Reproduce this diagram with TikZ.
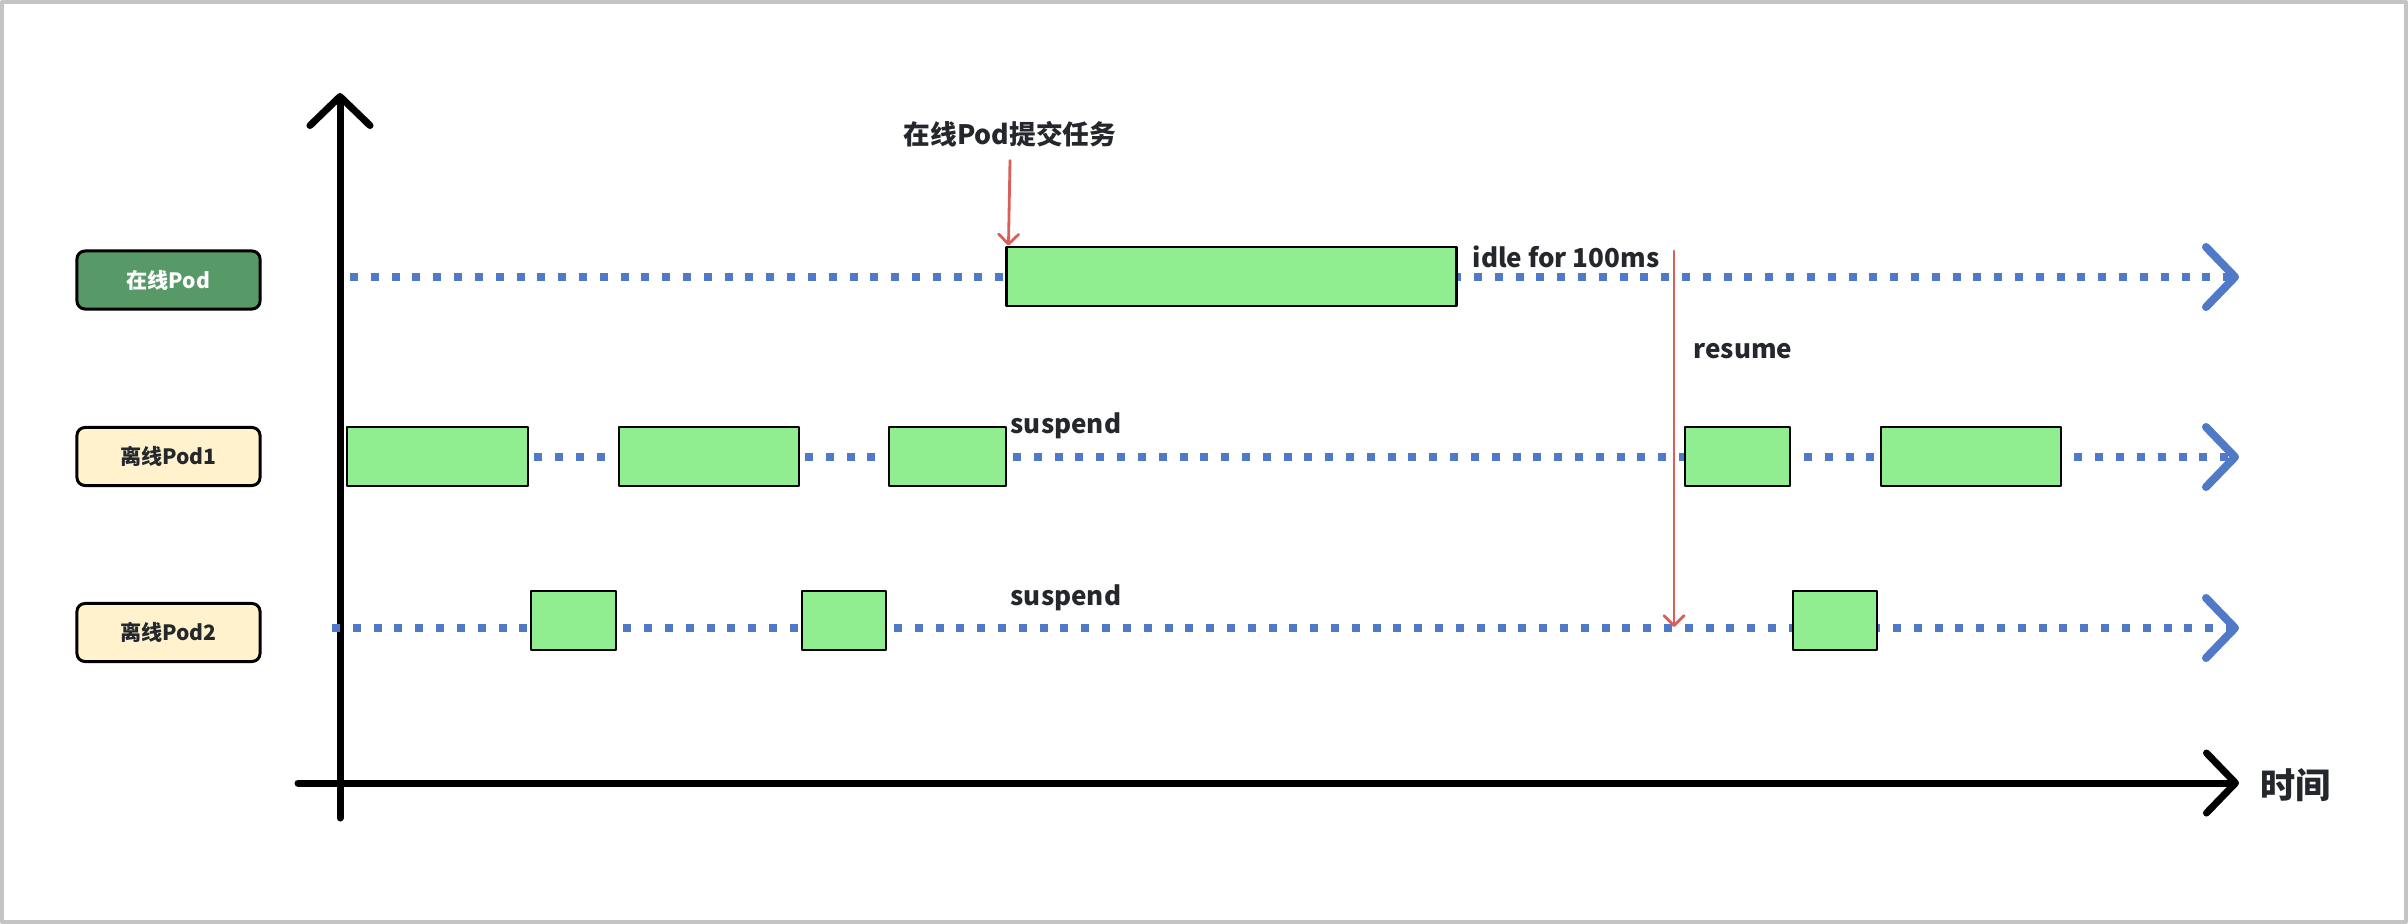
\documentclass[tikz,border=0pt]{standalone}
\usepackage{fontspec}
\setmainfont{Noto Sans CJK SC}
\usetikzlibrary{arrows.meta}
\definecolor{lanecol}{HTML}{5079C8}
\definecolor{taskcol}{HTML}{90EE90}
\definecolor{oncol}{HTML}{579A68}
\definecolor{offcol}{HTML}{FFF2CC}
\definecolor{markcol}{HTML}{D9605A}
\definecolor{framecol}{HTML}{C4C4C4}
\definecolor{inkcol}{HTML}{24272B}

\begin{document}
\begin{tikzpicture}[x=0.01cm,y=-0.01cm,line cap=round,line join=round,
  >={Straight Barb[length=0.29cm,width=0.6cm,round]},
  every node/.style={font=\bfseries,text=inkcol,inner sep=0pt},
  podbox/.style={draw=black,line width=0.03cm,rounded corners=0.08cm,
    minimum width=1.83cm,minimum height=0.58cm,
    font=\fontsize{6}{7}\selectfont\bfseries},
  task/.style={draw=black,fill=taskcol,line width=0.028cm,
    minimum height=0.59cm},
  lane/.style={draw=lanecol,line width=0.08cm,line cap=butt,
    dash pattern=on 0.08cm off 0.128cm,->},
  axis/.style={draw=black,line width=0.07cm,->},
  redarrow/.style={draw=markcol,line width=0.028cm,
    -{Straight Barb[length=0.1cm,width=0.2cm,round]}},
  note/.style={font=\fontsize{7.4}{9}\selectfont\bfseries,anchor=base west}]
  \useasboundingbox (0,0) rectangle (2408,924);
  \draw[framecol,line width=0.04cm] (2,2) rectangle (2406,922);

  % pods
  \node[podbox,fill=oncol,text=white] (onpod) at (168.5,280) {在线Pod};
  \node[podbox,fill=offcol] (off1) at (168.5,456.5) {离线Pod1};
  \node[podbox,fill=offcol] (off2) at (168.5,632.5) {离线Pod2};

  % axes
  \coordinate (ybot) at (340,818);
  \coordinate (ytop) at (340,93);
  \coordinate (xlft) at (298,783);
  \coordinate (xrgt) at (2239,783);
  \draw[axis] (ybot) -- (ytop);
  \draw[axis] (xlft) -- (xrgt);
  \node[font=\fontsize{10}{12}\selectfont\bfseries,anchor=west] (time)
    at (2260,785) {时间};

  % lanes
  \foreach \n/\y/\s in {1/277/350,2/457/347,3/628/332} {
    \coordinate (l\n s) at (\s,\y);
    \coordinate (l\n e) at (2239,\y);
    \draw[lane] (l\n s) -- (l\n e);
  }

  % tasks
  \node[task,minimum width=4.49cm] (on) at (1231.5,276.5) {};
  \foreach \i/\c/\w in {1/437.5/181,2/709/180,3/947.5/117,4/1737.5/105,5/1971/180}
    \node[task,minimum width=\w*0.01cm] (p1t\i) at (\c,456.5) {};
  \foreach \i/\c/\w in {1/573.5/85,2/844/84,3/1835/84}
    \node[task,minimum width=\w*0.01cm] (p2t\i) at (\c,620.5) {};

  % notes
  \node[font=\fontsize{7.6}{9}\selectfont\bfseries] (submit) at (1010,134)
    {在线Pod提交任务};
  \draw[redarrow] ([yshift=-0.13cm]submit.south) -- ([xshift=0.03cm]on.north west);
  \node[note] (idle) at (1472,267) {idle for 100ms};
  \node[note] (resume) at (1693,358) {resume};
  \node[note] (susp1) at (1010,433) {suspend};
  \node[note] (susp2) at (1010,605) {suspend};
  \coordinate (rtop) at (1674,251);
  \coordinate (rbot) at (1674,627);
  \draw[redarrow] (rtop) -- (rbot);
\end{tikzpicture}
\end{document}
